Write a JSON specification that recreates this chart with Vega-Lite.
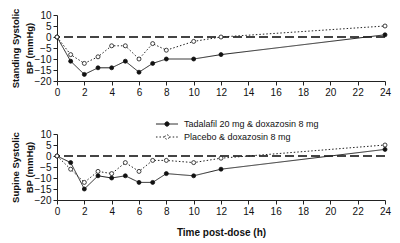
{
  "$schema": "https://vega.github.io/schema/vega-lite/v6.json",
  "padding": {"left": 10, "top": 8, "right": 14, "bottom": 2},
  "background": "white",
  "config": {
    "view": {"stroke": null},
    "font": "Liberation Sans",
    "axis": {"grid": false, "domainColor": "#222", "tickColor": "#222", "labelColor": "#111", "labelFontSize": 10, "labelFont": "Liberation Sans", "titleFont": "Liberation Sans", "titleFontSize": 9.5, "titleFontWeight": "bold", "titleColor": "#111", "tickSize": 4, "labelPadding": 2, "titleLineHeight": 13.5, "labelOverlap": false, "labelSeparation": 0, "labelFlush": false, "labelBound": false}
  },
  "datasets": {
    "bp": [
      {"panel": "standing", "series": "Tadalafil 20 mg & doxazosin 8 mg", "time": 0, "bp": 0},
      {"panel": "standing", "series": "Tadalafil 20 mg & doxazosin 8 mg", "time": 1, "bp": -11},
      {"panel": "standing", "series": "Tadalafil 20 mg & doxazosin 8 mg", "time": 2, "bp": -17},
      {"panel": "standing", "series": "Tadalafil 20 mg & doxazosin 8 mg", "time": 3, "bp": -14},
      {"panel": "standing", "series": "Tadalafil 20 mg & doxazosin 8 mg", "time": 4, "bp": -14},
      {"panel": "standing", "series": "Tadalafil 20 mg & doxazosin 8 mg", "time": 5, "bp": -11},
      {"panel": "standing", "series": "Tadalafil 20 mg & doxazosin 8 mg", "time": 6, "bp": -16},
      {"panel": "standing", "series": "Tadalafil 20 mg & doxazosin 8 mg", "time": 7, "bp": -12},
      {"panel": "standing", "series": "Tadalafil 20 mg & doxazosin 8 mg", "time": 8, "bp": -10},
      {"panel": "standing", "series": "Tadalafil 20 mg & doxazosin 8 mg", "time": 10, "bp": -10},
      {"panel": "standing", "series": "Tadalafil 20 mg & doxazosin 8 mg", "time": 12, "bp": -8},
      {"panel": "standing", "series": "Tadalafil 20 mg & doxazosin 8 mg", "time": 24, "bp": 1},
      {"panel": "standing", "series": "Placebo & doxazosin 8 mg", "time": 0, "bp": 0},
      {"panel": "standing", "series": "Placebo & doxazosin 8 mg", "time": 1, "bp": -8},
      {"panel": "standing", "series": "Placebo & doxazosin 8 mg", "time": 2, "bp": -12},
      {"panel": "standing", "series": "Placebo & doxazosin 8 mg", "time": 3, "bp": -9},
      {"panel": "standing", "series": "Placebo & doxazosin 8 mg", "time": 4, "bp": -4},
      {"panel": "standing", "series": "Placebo & doxazosin 8 mg", "time": 5, "bp": -4},
      {"panel": "standing", "series": "Placebo & doxazosin 8 mg", "time": 6, "bp": -10},
      {"panel": "standing", "series": "Placebo & doxazosin 8 mg", "time": 7, "bp": -3},
      {"panel": "standing", "series": "Placebo & doxazosin 8 mg", "time": 8, "bp": -6},
      {"panel": "standing", "series": "Placebo & doxazosin 8 mg", "time": 10, "bp": -2},
      {"panel": "standing", "series": "Placebo & doxazosin 8 mg", "time": 12, "bp": 0},
      {"panel": "standing", "series": "Placebo & doxazosin 8 mg", "time": 24, "bp": 5},
      {"panel": "supine", "series": "Tadalafil 20 mg & doxazosin 8 mg", "time": 0, "bp": 0},
      {"panel": "supine", "series": "Tadalafil 20 mg & doxazosin 8 mg", "time": 1, "bp": -3},
      {"panel": "supine", "series": "Tadalafil 20 mg & doxazosin 8 mg", "time": 2, "bp": -15},
      {"panel": "supine", "series": "Tadalafil 20 mg & doxazosin 8 mg", "time": 3, "bp": -9},
      {"panel": "supine", "series": "Tadalafil 20 mg & doxazosin 8 mg", "time": 4, "bp": -10},
      {"panel": "supine", "series": "Tadalafil 20 mg & doxazosin 8 mg", "time": 5, "bp": -9},
      {"panel": "supine", "series": "Tadalafil 20 mg & doxazosin 8 mg", "time": 6, "bp": -12},
      {"panel": "supine", "series": "Tadalafil 20 mg & doxazosin 8 mg", "time": 7, "bp": -12},
      {"panel": "supine", "series": "Tadalafil 20 mg & doxazosin 8 mg", "time": 8, "bp": -8},
      {"panel": "supine", "series": "Tadalafil 20 mg & doxazosin 8 mg", "time": 10, "bp": -9},
      {"panel": "supine", "series": "Tadalafil 20 mg & doxazosin 8 mg", "time": 12, "bp": -6},
      {"panel": "supine", "series": "Tadalafil 20 mg & doxazosin 8 mg", "time": 24, "bp": 3},
      {"panel": "supine", "series": "Placebo & doxazosin 8 mg", "time": 0, "bp": 0},
      {"panel": "supine", "series": "Placebo & doxazosin 8 mg", "time": 1, "bp": -6},
      {"panel": "supine", "series": "Placebo & doxazosin 8 mg", "time": 2, "bp": -12},
      {"panel": "supine", "series": "Placebo & doxazosin 8 mg", "time": 3, "bp": -7},
      {"panel": "supine", "series": "Placebo & doxazosin 8 mg", "time": 4, "bp": -8},
      {"panel": "supine", "series": "Placebo & doxazosin 8 mg", "time": 5, "bp": -3},
      {"panel": "supine", "series": "Placebo & doxazosin 8 mg", "time": 6, "bp": -7},
      {"panel": "supine", "series": "Placebo & doxazosin 8 mg", "time": 7, "bp": -2},
      {"panel": "supine", "series": "Placebo & doxazosin 8 mg", "time": 8, "bp": -2},
      {"panel": "supine", "series": "Placebo & doxazosin 8 mg", "time": 10, "bp": -3},
      {"panel": "supine", "series": "Placebo & doxazosin 8 mg", "time": 12, "bp": -1},
      {"panel": "supine", "series": "Placebo & doxazosin 8 mg", "time": 24, "bp": 5}
    ]
  },
  "spacing": 19,
  "resolve": {"legend": {"strokeDash": "independent", "fill": "independent"}},
  "vconcat": [
    {
      "width": 328,
      "height": 66,
      "data": {"name": "bp"},
      "transform": [{"filter": "datum.panel === 'standing'"}],
      "encoding": {
        "x": {"field": "time", "type": "quantitative", "scale": {"domain": [0, 24], "nice": false, "zero": false}, "axis": {"values": [0,2,4,6,8,10,12,14,16,18,20,22,24], "title": null, "labelOverlap": false}},
        "y": {"field": "bp", "type": "quantitative", "scale": {"domain": [-20, 10], "nice": false}, "axis": {"values": [-20,-15,-10,-5,0,5,10], "title": ["Standing Systolic", "BP (mmHg)"], "titlePadding": 0, "labelOverlap": false}}
      },
      "layer": [
        {"mark": {"type": "rule", "stroke": "#444", "strokeDash": [9, 4], "strokeWidth": 1.3}, "encoding": {"x": null, "y": {"datum": 0, "type": "quantitative"}}},
        {
          "mark": {"type": "line", "stroke": "#222", "strokeWidth": 1},
          "encoding": {
            "strokeDash": {"field": "series", "type": "nominal", "scale": {"domain": ["Tadalafil 20 mg & doxazosin 8 mg", "Placebo & doxazosin 8 mg"], "range": [[1, 0], [1.5, 2]]}, "legend": null}
          }
        },
        {
          "mark": {"type": "point", "shape": "circle", "stroke": "#111", "strokeWidth": 0.8, "opacity": 1, "size": 16},
          "encoding": {
            "fill": {"field": "series", "type": "nominal", "scale": {"domain": ["Tadalafil 20 mg & doxazosin 8 mg", "Placebo & doxazosin 8 mg"], "range": ["#111", "white"]}, "legend": null}
          }
        }
      ]
    },
    {
      "width": 328,
      "height": 66,
      "data": {"name": "bp"},
      "transform": [{"filter": "datum.panel === 'supine'"}],
      "encoding": {
        "x": {"field": "time", "type": "quantitative", "scale": {"domain": [0, 24], "nice": false, "zero": false}, "axis": {"values": [0,2,4,6,8,10,12,14,16,18,20,22,24], "title": "Time post-dose (h)", "titlePadding": 11, "titleFontSize": 10, "labelOverlap": false}},
        "y": {"field": "bp", "type": "quantitative", "scale": {"domain": [-20, 10], "nice": false}, "axis": {"values": [-20,-15,-10,-5,0,5,10], "title": ["Supine Systolic", "BP (mmHg)"], "titlePadding": 0, "labelOverlap": false}}
      },
      "layer": [
        {"mark": {"type": "rule", "stroke": "#444", "strokeDash": [9, 4], "strokeWidth": 1.3}, "encoding": {"x": null, "y": {"datum": 0, "type": "quantitative"}}},
        {
          "mark": {"type": "line", "stroke": "#222", "strokeWidth": 1},
          "encoding": {
            "strokeDash": {"field": "series", "type": "nominal", "scale": {"domain": ["Tadalafil 20 mg & doxazosin 8 mg", "Placebo & doxazosin 8 mg"], "range": [[1, 0], [1.5, 2]]},
              "legend": {"title": null, "orient": "none", "legendX": 102, "legendY": -18, "symbolType": "M-1.5,0H-0.3M0.3,0H1.5M-0.3,0A0.3,0.3 0 1,1 0.3,0A0.3,0.3 0 1,1 -0.3,0", "symbolSize": 216, "symbolStrokeColor": "#222", "symbolStrokeWidth": 1, "labelFontSize": 9, "labelColor": "#111", "labelFont": "Liberation Sans", "rowPadding": -2, "labelOffset": 9, "symbolFillColor": "white"}}
          }
        },
        {
          "mark": {"type": "point", "shape": "circle", "stroke": "#111", "strokeWidth": 0.8, "opacity": 1, "size": 16},
          "encoding": {
            "fill": {"field": "series", "type": "nominal", "scale": {"domain": ["Tadalafil 20 mg & doxazosin 8 mg", "Placebo & doxazosin 8 mg"], "range": ["#111", "white"]}, "legend": null}
          }
        }
      ]
    }
  ]
}
